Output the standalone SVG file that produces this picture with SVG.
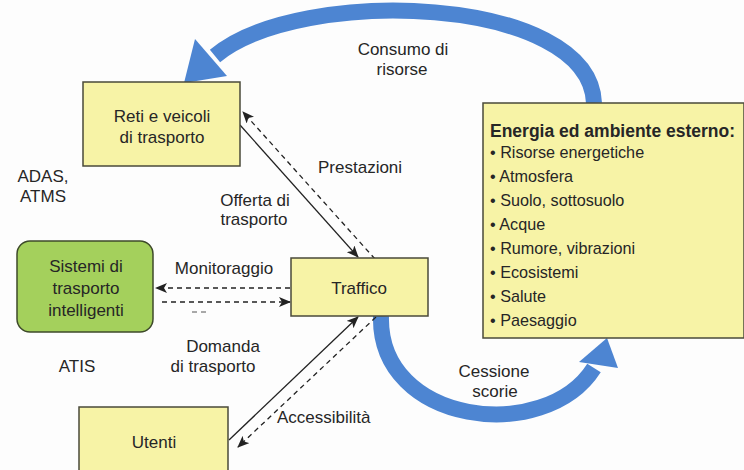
<svg xmlns="http://www.w3.org/2000/svg" width="744" height="470" viewBox="0 0 744 470">
<defs>
<style>
.box{fill:#f7f3a6;stroke:#4a4a3a;stroke-width:1.5}
.green{fill:#a4d05c;stroke:#3e4a2a;stroke-width:1.5}
text{font-family:"Liberation Sans",Arial,sans-serif;font-size:17px;fill:#262626}
.c{text-anchor:middle}
.big{font-size:16.2px}
.title{font-size:17.5px;font-weight:bold}
.solid{stroke:#222;stroke-width:1.3;fill:none;marker-end:url(#ah)}
.dash{stroke:#222;stroke-width:1.3;fill:none;stroke-dasharray:5 4;marker-end:url(#ah)}
.shaft{fill:none;stroke:#4d85d2;stroke-width:16}
.shine{fill:none;stroke:#86b0e8;stroke-width:4;opacity:0.5}
.head{fill:#4d85d2}
</style>
<marker id="ah" viewBox="0 0 12 10" refX="11" refY="5" markerWidth="12" markerHeight="10" markerUnits="userSpaceOnUse" orient="auto">
<path d="M0,0 L12,5 L0,10 L3,5 z" fill="#222"/>
</marker>
</defs>
<rect width="744" height="470" fill="#fdfdfd"/>

<g id="connectors">
<!-- blue arcs -->
<path class="shaft" d="M594 103 C590 -5, 300 -15, 215 56"/>
<polygon class="head" points="184,83 227,76 195,39"/>
<path class="shaft" d="M381 316 C378 425, 545 445, 594 368"/>
<polygon class="head" points="607,338 579,362 618,368"/>
<!-- black connectors -->
<line class="solid" x1="240" y1="125" x2="358" y2="257"/>
<line class="dash" x1="375" y1="259" x2="243" y2="112"/>
<line class="dash" x1="290" y1="288" x2="156" y2="288"/>
<line class="dash" x1="162" y1="302" x2="290" y2="302"/>
<line x1="192" y1="312" x2="206" y2="312" stroke="#555" stroke-width="1" stroke-dasharray="5 4"/>
<line class="solid" x1="229" y1="440" x2="358" y2="317"/>
<line class="dash" x1="376" y1="317" x2="238" y2="447"/>
</g>

<g id="reti">
<rect class="box" x="83" y="82" width="157" height="84"/>
<text class="c" x="162" y="122">Reti e veicoli</text>
<text class="c" x="162" y="143">di trasporto</text>
</g>

<g id="sistemi">
<rect class="green" x="17" y="241" width="136" height="91" rx="13"/>
<text class="c" x="86" y="272">Sistemi di</text>
<text class="c" x="86" y="294">trasporto</text>
<text class="c" x="86" y="316">intelligenti</text>
</g>

<g id="traffico">
<rect class="box" x="291" y="258" width="137" height="58"/>
<text class="c" x="359" y="294">Traffico</text>
</g>

<g id="utenti">
<rect class="box" x="79" y="407" width="149" height="70"/>
<text class="c" x="154" y="448">Utenti</text>
</g>

<g id="energia">
<rect class="box" x="483" y="103" width="261" height="235"/>
<text class="title" x="490" y="137">Energia ed ambiente esterno:</text>
<text class="big" x="490" y="158">• Risorse energetiche</text>
<text class="big" x="490" y="182">• Atmosfera</text>
<text class="big" x="490" y="206">• Suolo, sottosuolo</text>
<text class="big" x="490" y="230">• Acque</text>
<text class="big" x="490" y="254">• Rumore, vibrazioni</text>
<text class="big" x="490" y="278">• Ecosistemi</text>
<text class="big" x="490" y="302">• Salute</text>
<text class="big" x="490" y="326">• Paesaggio</text>
</g>

<g id="labels">
<text class="c" x="403" y="55">Consumo di</text>
<text class="c" x="402" y="75">risorse</text>
<text class="c" x="43" y="182">ADAS,</text>
<text class="c" x="43" y="202">ATMS</text>
<text x="318" y="173">Prestazioni</text>
<text class="c" x="255" y="206">Offerta di</text>
<text class="c" x="254" y="225">trasporto</text>
<text class="c" x="224" y="274">Monitoraggio</text>
<text class="c" x="223" y="352">Domanda</text>
<text class="c" x="213" y="372">di trasporto</text>
<text class="c" x="77" y="372">ATIS</text>
<text x="277" y="423">Accessibilità</text>
<text class="c" x="494" y="377">Cessione</text>
<text class="c" x="495" y="397">scorie</text>
</g>
</svg>
